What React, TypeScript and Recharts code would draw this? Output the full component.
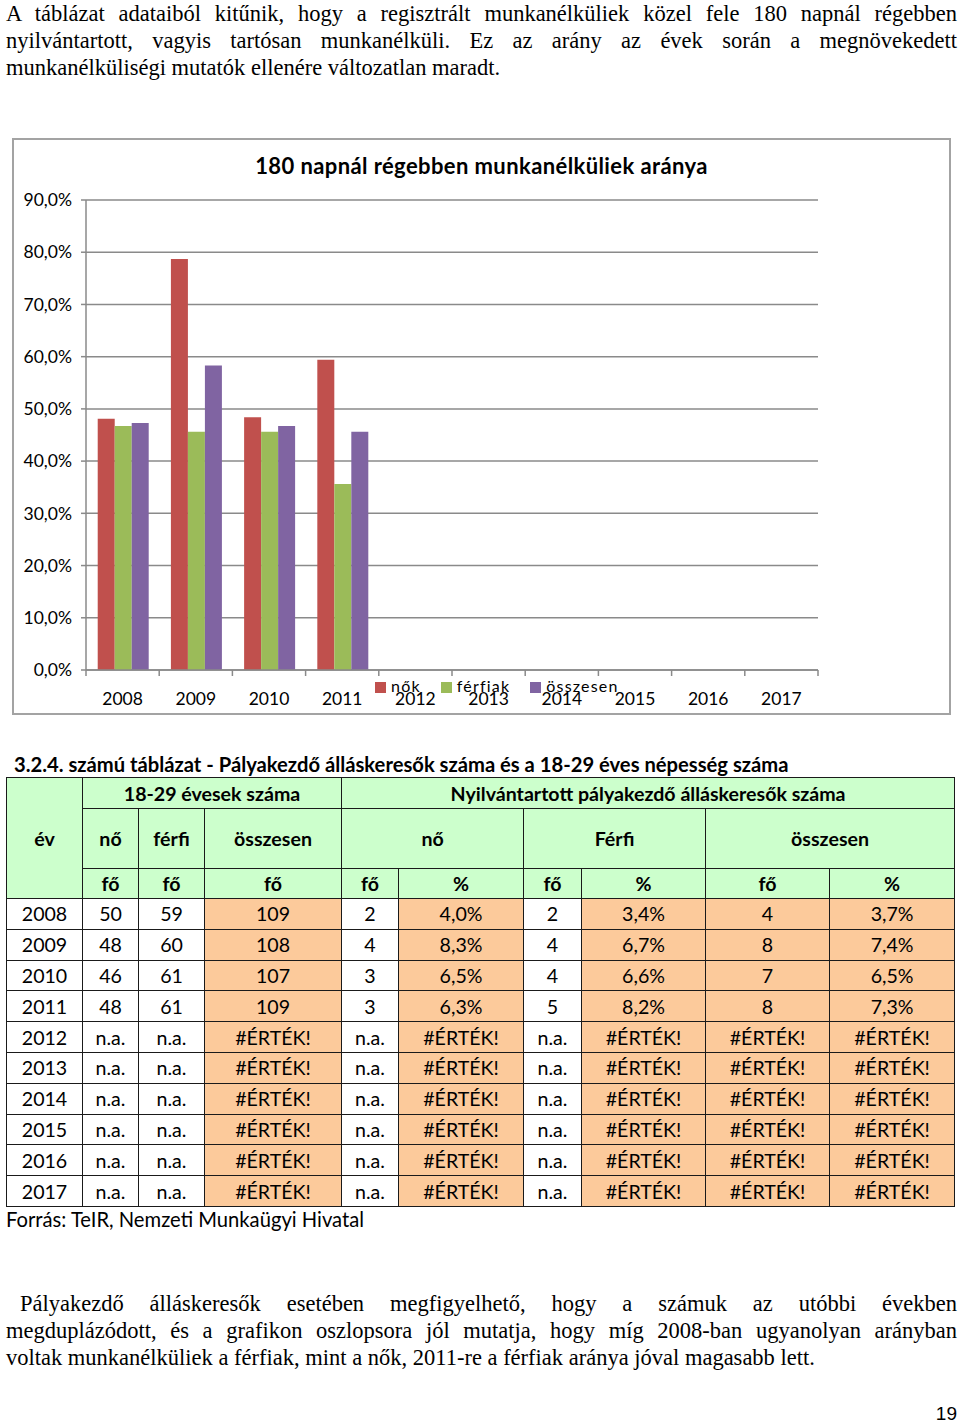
import React from 'react';
import { BarChart, Bar, XAxis, YAxis, CartesianGrid, Legend } from 'recharts';

// ---------- chart data ----------
const years = ['2008', '2009', '2010', '2011', '2012', '2013', '2014', '2015', '2016', '2017'];
const womenShare = [0.481, 0.787, 0.484, 0.594, null, null, null, null, null, null];
const menShare = [0.467, 0.456, 0.456, 0.356, null, null, null, null, null, null];
const totalShare = [0.473, 0.583, 0.467, 0.456, null, null, null, null, null, null];
const yTicks = [0, 0.1, 0.2, 0.3, 0.4, 0.5, 0.6, 0.7, 0.8, 0.9];
const seriesNames = ['nők', 'férfiak', 'összesen'];
const seriesColors = ['#C0504D', '#9BBB59', '#8064A2'];
const chartTitle = '180 napnál régebben munkanélküliek aránya';

// ---------- table data ----------
const tblYears = years;
const popWomen = [50, 48, 46, 48];
const popMen = [59, 60, 61, 61];
const popTotal = [109, 108, 107, 109];
const jsWomen = [2, 4, 3, 3];
const jsWomenPct = ['4,0%', '8,3%', '6,5%', '6,3%'];
const jsMen = [2, 4, 4, 5];
const jsMenPct = ['3,4%', '6,7%', '6,6%', '8,2%'];
const jsTotal = [4, 8, 7, 8];
const jsTotalPct = ['3,7%', '7,4%', '6,5%', '7,3%'];
const NA = 'n.a.';
const ERR = '#ÉRTÉK!';

const para1 = [
  'A táblázat adataiból kitűnik, hogy a regisztrált munkanélküliek közel fele 180 napnál régebben',
  'nyilvántartott, vagyis tartósan munkanélküli. Ez az arány az évek során a megnövekedett',
  'munkanélküliségi mutatók ellenére változatlan maradt.',
];
const para2 = [
  'Pályakezdő álláskeresők esetében megfigyelhető, hogy a számuk az utóbbi években',
  'megduplázódott, és a grafikon oszlopsora jól mutatja, hogy míg 2008-ban ugyanolyan arányban',
  'voltak munkanélküliek a férfiak, mint a nők, 2011-re a férfiak aránya jóval magasabb lett.',
];

const chartData = years.map((y, i) => ({
  year: y,
  nok: womenShare[i],
  ferfiak: menShare[i],
  osszesen: totalShare[i],
}));

const GRID = '#8a8a8a';
const SANS = 'Lato, "Open Sans", sans-serif';
const SERIF = '"Liberation Serif", "Times New Roman", serif';

const fmtPct = (v: number) => (v * 100).toFixed(1).replace('.', ',') + '%';

const TICK_SIZE = 6;
const TICK_MARGIN = 17;

const XTick = (props: any) => {
  const { x, y, payload, index, visibleTicksCount } = props;
  const half = payload && typeof payload.offset === 'number' && payload.offset > 0 ? payload.offset : 36.6;
  const axisY = y - TICK_SIZE - TICK_MARGIN;
  const isLast = index === (visibleTicksCount ?? years.length) - 1;
  return (
    <g>
      <line x1={x - half} x2={x - half} y1={axisY} y2={axisY + TICK_SIZE} stroke={GRID} strokeWidth={1.5} />
      {isLast && (
        <line x1={x + half} x2={x + half} y1={axisY} y2={axisY + TICK_SIZE} stroke={GRID} strokeWidth={1.5} />
      )}
      <text x={x} y={y} dy="0.71em" textAnchor="middle" fill="#000" fontSize={17.5} fontFamily={SANS}>
        {payload.value}
      </text>
    </g>
  );
};

const LegendContent = (props: any) => {
  const items = [...(props.payload || [])].sort(
    (a: any, b: any) => seriesNames.indexOf(a.value) - seriesNames.indexOf(b.value)
  );
  return (
    <div style={{ display: 'flex', alignItems: 'center', fontFamily: SANS, fontSize: 16, letterSpacing: 1.2, color: '#000', whiteSpace: 'nowrap' }}>
      {items.map((it: any) => (
        <div key={it.value} style={{ display: 'flex', alignItems: 'center', marginRight: 20 }}>
          <span style={{ width: 11, height: 11, background: it.color, marginRight: 5, display: 'inline-block' }} />
          <span style={{ position: 'relative', top: -2 }}>{it.value}</span>
        </div>
      ))}
    </div>
  );
};

const cellBorder = '1.5px solid #1a1a1a';
const GREEN = '#ccffcc';
const ORANGE = '#fcca9b';

const th: React.CSSProperties = {
  border: cellBorder,
  background: GREEN,
  fontWeight: 700,
  textAlign: 'center',
  padding: 0,
};
const td: React.CSSProperties = {
  border: cellBorder,
  textAlign: 'center',
  padding: 0,
  fontWeight: 400,
};
const tdO: React.CSSProperties = { ...td, background: ORANGE };

const colWidths = [76, 56, 66, 137, 57, 125, 58, 124, 124, 125];

const JustLine = ({ text, last, indent }: { text: string; last?: boolean; indent?: number }) => (
  <div
    style={{
      textAlign: last ? 'left' : 'justify',
      textAlignLast: last ? 'left' : 'justify',
      whiteSpace: 'nowrap',
      paddingLeft: indent || 0,
      height: 27,
    }}
  >
    {text}
  </div>
);

export default function App() {
  return (
    <div style={{ position: 'absolute', left: 0, top: 0, width: 960, height: 1426, background: '#fff', overflow: 'hidden', color: '#000' }}>
      {/* top paragraph */}
      <div style={{ position: 'absolute', left: 6, top: 0, width: 951, fontFamily: SERIF, fontSize: 22.5, lineHeight: '27px' }}>
        {para1.map((t, i) => (
          <JustLine key={i} text={t} last={i === para1.length - 1} />
        ))}
      </div>

      {/* chart frame */}
      <div style={{ position: 'absolute', left: 12, top: 138, width: 939, height: 577, border: '2px solid #a3a3a3', boxSizing: 'border-box', background: '#fff' }}>
        <BarChart
          width={935}
          height={573}
          data={chartData}
          margin={{ top: 60, right: 131, bottom: 13, left: 0 }}
          barCategoryGap="16%"
          barGap={0}
        >
          <CartesianGrid vertical={false} stroke={GRID} strokeWidth={1.5} />
          <XAxis
            dataKey="year"
            height={30}
            axisLine={{ stroke: GRID, strokeWidth: 1.5 }}
            tickLine={false}
            tickSize={TICK_SIZE}
            tickMargin={TICK_MARGIN}
            tick={<XTick />}
            interval={0}
          />
          <YAxis
            width={72}
            domain={[0, 0.9]}
            ticks={yTicks}
            tickFormatter={fmtPct}
            axisLine={{ stroke: GRID, strokeWidth: 1.5 }}
            tickLine={{ stroke: GRID, strokeWidth: 1.5 }}
            tickSize={5}
            tickMargin={9}
            tick={{ fill: '#000', fontSize: 17.5, fontFamily: SANS }}
            interval={0}
          />
          <Legend
            layout="horizontal"
            verticalAlign="middle"
            align="center"
            content={<LegendContent />}
            wrapperStyle={{ left: 361, top: 538, width: 'auto', height: 20 }}
          />
          <Bar dataKey="nok" name={seriesNames[0]} fill={seriesColors[0]} isAnimationActive={false} />
          <Bar dataKey="ferfiak" name={seriesNames[1]} fill={seriesColors[1]} isAnimationActive={false} />
          <Bar dataKey="osszesen" name={seriesNames[2]} fill={seriesColors[2]} isAnimationActive={false} />
        </BarChart>
        <div style={{ position: 'absolute', left: 0, top: 12, width: 935, textAlign: 'center', fontFamily: SANS, fontWeight: 700, fontSize: 22, letterSpacing: 0.4, lineHeight: '28px' }}>
          {chartTitle}
        </div>
      </div>

      {/* table title */}
      <div style={{ position: 'absolute', left: 14, top: 752, fontFamily: SANS, fontWeight: 700, fontSize: 20.2, lineHeight: '24px', whiteSpace: 'nowrap' }}>
        3.2.4. számú táblázat - Pályakezdő álláskeresők száma és a 18-29 éves népesség száma
      </div>

      {/* table */}
      <table
        style={{
          position: 'absolute',
          left: 6,
          top: 777,
          width: 948,
          borderCollapse: 'collapse',
          tableLayout: 'fixed',
          fontFamily: SANS,
          fontSize: 19.6,
        }}
      >
        <colgroup>
          {colWidths.map((w, i) => (
            <col key={i} style={{ width: w }} />
          ))}
        </colgroup>
        <tbody>
          <tr style={{ height: 31 }}>
            <td style={th} rowSpan={3}>év</td>
            <td style={th} colSpan={3}>18-29 évesek száma</td>
            <td style={th} colSpan={6}>Nyilvántartott pályakezdő álláskeresők száma</td>
          </tr>
          <tr style={{ height: 60 }}>
            <td style={th}>nő</td>
            <td style={th}>férfi</td>
            <td style={th}>összesen</td>
            <td style={th} colSpan={2}>nő</td>
            <td style={th} colSpan={2}>Férfi</td>
            <td style={th} colSpan={2}>összesen</td>
          </tr>
          <tr style={{ height: 30 }}>
            <td style={th}>fő</td>
            <td style={th}>fő</td>
            <td style={th}>fő</td>
            <td style={th}>fő</td>
            <td style={th}>%</td>
            <td style={th}>fő</td>
            <td style={th}>%</td>
            <td style={th}>fő</td>
            <td style={th}>%</td>
          </tr>
          {tblYears.map((y, i) => {
            const has = i < popWomen.length;
            return (
              <tr key={y} style={{ height: 30.8 }}>
                <td style={td}>{y}</td>
                <td style={td}>{has ? popWomen[i] : NA}</td>
                <td style={td}>{has ? popMen[i] : NA}</td>
                <td style={tdO}>{has ? popTotal[i] : ERR}</td>
                <td style={td}>{has ? jsWomen[i] : NA}</td>
                <td style={tdO}>{has ? jsWomenPct[i] : ERR}</td>
                <td style={td}>{has ? jsMen[i] : NA}</td>
                <td style={tdO}>{has ? jsMenPct[i] : ERR}</td>
                <td style={tdO}>{has ? jsTotal[i] : ERR}</td>
                <td style={tdO}>{has ? jsTotalPct[i] : ERR}</td>
              </tr>
            );
          })}
        </tbody>
      </table>

      {/* source */}
      <div style={{ position: 'absolute', left: 6, top: 1207, fontFamily: SANS, fontSize: 20.2, lineHeight: '24px', whiteSpace: 'nowrap' }}>
        Forrás: TeIR, Nemzeti Munkaügyi Hivatal
      </div>

      {/* bottom paragraph */}
      <div style={{ position: 'absolute', left: 6, top: 1290, width: 951, fontFamily: SERIF, fontSize: 22.5, lineHeight: '27px' }}>
        {para2.map((t, i) => (
          <JustLine key={i} text={t} last={i === para2.length - 1} indent={i === 0 ? 14 : 0} />
        ))}
      </div>

      {/* page number */}
      <div style={{ position: 'absolute', right: 3, top: 1403, fontFamily: '"Liberation Sans", Arial, sans-serif', fontSize: 19, lineHeight: '22px' }}>
        19
      </div>
    </div>
  );
}
